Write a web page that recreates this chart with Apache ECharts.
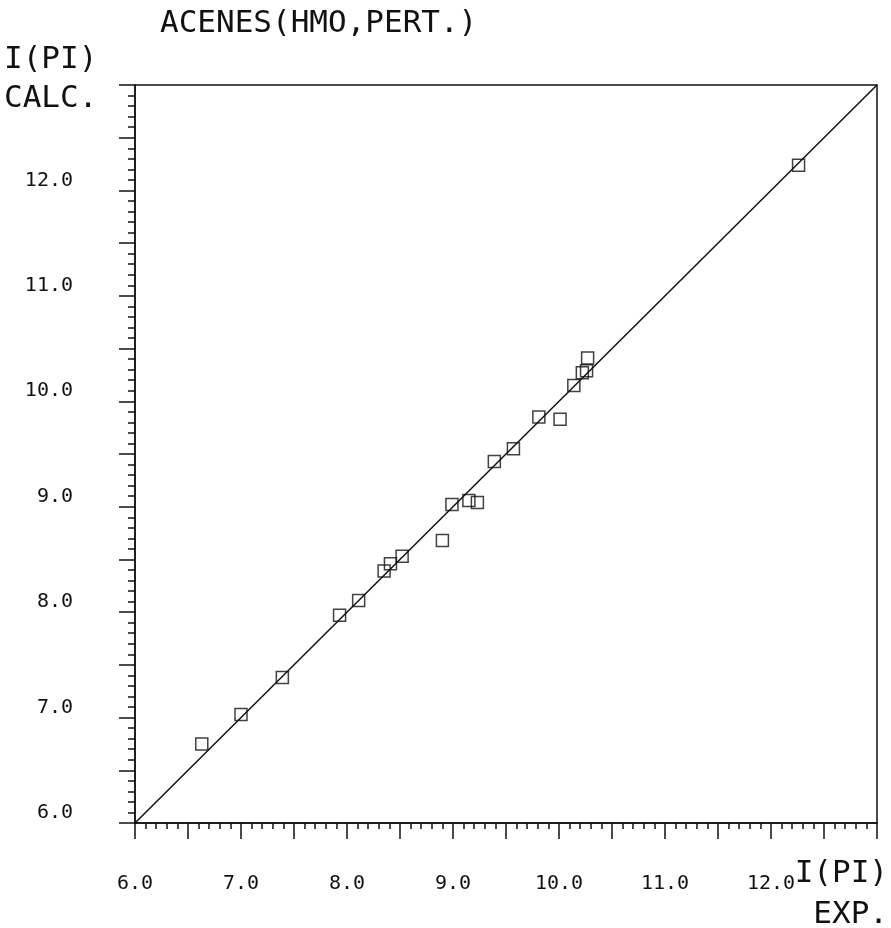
<!DOCTYPE html>
<html>
<head>
<meta charset="utf-8">
<script src="https://cdn.jsdelivr.net/npm/echarts@6/dist/echarts.min.js"></script>
<style>
  html, body { margin: 0; padding: 0; background: #fff; }
  #chart { width: 891px; height: 928px; }
</style>
</head>
<body>
<div id="chart"></div>
<script>
// Experimental vs calculated pi ionization potentials (acenes, HMO perturbation)
const expIP  = [6.63, 7.00, 7.39, 7.93, 8.11, 8.35, 8.41, 8.52, 8.90, 8.99, 9.15, 9.23, 9.39, 9.57, 9.81, 10.01, 10.14, 10.22, 10.26, 10.27, 12.26];
const calcIP = [6.75, 7.03, 7.38, 7.97, 8.11, 8.39, 8.46, 8.53, 8.68, 9.02, 9.06, 9.04, 9.43, 9.55, 9.85, 9.83, 10.15, 10.27, 10.29, 10.41, 12.24];
// Reference line y = x
const lineX = [6.0, 13.0];
const lineY = [6.0, 13.0];
// Tick labels
const tickValues = [6, 7, 8, 9, 10, 11, 12];
const tickLabels = ['6.0', '7.0', '8.0', '9.0', '10.0', '11.0', '12.0'];

const titleText = 'ACENES(HMO,PERT.)';
const yName = ['I(PI)', 'CALC.'];
const xName = ['I(PI)', 'EXP.'];

const FONT = 'DejaVu Sans Mono';
const INK = '#111';
const LW = 1.5;

function fmt(v) {
  const i = tickValues.findIndex(t => Math.abs(t - v) < 1e-6);
  return i >= 0 ? tickLabels[i] : '';
}

const chart = echarts.init(document.getElementById('chart'), null, { renderer: 'canvas' });
chart.setOption({
  animation: false,
  backgroundColor: '#fff',
  grid: {
    left: 135, right: 14, top: 85, bottom: 105,
    show: true, borderColor: INK, borderWidth: LW, backgroundColor: 'transparent'
  },
  xAxis: {
    type: 'value', min: 6, max: 13, interval: 0.5,
    axisLine: { show: true, onZero: false, lineStyle: { color: INK, width: LW } },
    axisTick: { show: true, inside: false, length: 16, lineStyle: { color: INK, width: LW } },
    minorTick: { show: true, splitNumber: 5, length: 6, lineStyle: { color: INK, width: LW } },
    splitLine: { show: false },
    minorSplitLine: { show: false },
    axisLabel: {
      show: true, margin: 51, formatter: fmt, showMaxLabel: false,
      fontFamily: FONT, fontSize: 20, color: INK
    }
  },
  yAxis: {
    type: 'value', min: 6, max: 13, interval: 0.5,
    axisLine: { show: true, onZero: false, lineStyle: { color: INK, width: LW } },
    axisTick: { show: true, inside: false, length: 16, lineStyle: { color: INK, width: LW } },
    minorTick: { show: true, splitNumber: 5, length: 7, lineStyle: { color: INK, width: LW } },
    splitLine: { show: false },
    minorSplitLine: { show: false },
    axisLabel: {
      show: true, margin: 62, formatter: fmt, showMaxLabel: false,
      verticalAlign: 'bottom',
      fontFamily: FONT, fontSize: 20, color: INK
    }
  },
  graphic: [
    { type: 'text', left: 160, top: 8,
      style: { text: titleText, font: '31px "' + FONT + '"', fill: INK } },
    { type: 'text', left: 4, top: 44,
      style: { text: yName[0], font: '31px "' + FONT + '"', fill: INK } },
    { type: 'text', left: 4, top: 83,
      style: { text: yName[1], font: '31px "' + FONT + '"', fill: INK } },
    { type: 'text', right: 3, top: 858,
      style: { text: xName[0], font: '31px "' + FONT + '"', fill: INK } },
    { type: 'text', right: 3, top: 899,
      style: { text: xName[1], font: '31px "' + FONT + '"', fill: INK } }
  ],
  series: [
    {
      type: 'line',
      data: lineX.map((x, i) => [x, lineY[i]]),
      showSymbol: false,
      symbol: 'none',
      lineStyle: { color: INK, width: LW },
      silent: true,
      z: 2
    },
    {
      type: 'scatter',
      data: expIP.map((x, i) => [x, calcIP[i]]),
      symbol: 'rect',
      symbolSize: 12,
      itemStyle: { color: 'rgba(255,255,255,0)', borderColor: INK, borderWidth: LW },
      z: 3
    }
  ]
});
</script>
</body>
</html>
